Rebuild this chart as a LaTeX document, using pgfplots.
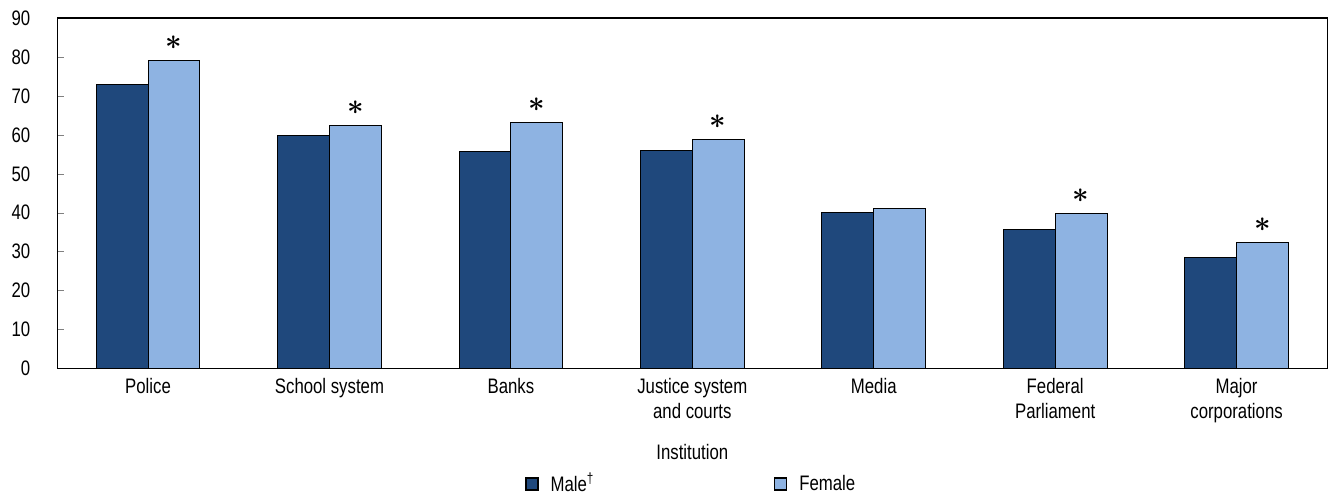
\documentclass[border=0pt]{standalone}
\usepackage{pgfplots}
\pgfplotsset{compat=1.18}
\usepackage{amsmath}
\usepackage{fontspec}
\setmainfont{Liberation Sans}[FakeStretch=0.8]
\definecolor{maleblue}{RGB}{31,72,124}
\definecolor{femaleblue}{RGB}{142,179,226}
\begin{document}
\begin{tikzpicture}
\begin{axis}[
  width=636pt, height=175.5pt, scale only axis,
  xmin=-0.5, xmax=6.5, ymin=0, ymax=90,
  ybar=0pt, bar width=0.286,
  ytick={0,10,...,90},
  xtick={0,...,6},
  xticklabels={Police, School system, Banks, {Justice system\\and courts}, Media, {Federal\\Parliament}, {Major\\corporations}},
  xticklabel style={align=center, font=\fontsize{10.5}{12.5}\selectfont, yshift=2pt},
  yticklabel style={font=\fontsize{10.5}{12}\selectfont, xshift=-10pt},
  /pgf/number format/assume math mode=true,
  ytick pos=left, ytick align=inside, major tick length=3.5pt,
  xtick style={draw=none},
  axis line style={line width=0.7pt},
  xlabel={Institution},
  xlabel style={font=\fontsize{10.5}{12}\selectfont, yshift=-4pt},
  legend style={at={(0.5,-0.275)}, anchor=north, draw=none, legend columns=2,
    font=\fontsize{10.5}{12}\selectfont, /tikz/every even column/.append style={column sep=88pt}},
  legend image code/.code={\draw[#1, draw=black, line width=0.6pt] (0pt,-3pt) rectangle (6pt,3pt);},
  nodes near coords style={font=\Large, anchor=south, yshift=2pt},
]
\addplot[fill=maleblue, draw=black, line width=0.5pt] coordinates {(0,73) (1,59.8) (2,55.8) (3,56.0) (4,40.0) (5,35.6) (6,28.4)};
\addlegendentry{\hspace{4pt}Male\textsuperscript{†}}
\addplot[fill=femaleblue, draw=black, line width=0.5pt,
  nodes near coords={\pgfplotspointmeta}, point meta=explicit symbolic]
  coordinates {(0,79.0) [$\boldsymbol{\ast}$] (1,62.4) [$\boldsymbol{\ast}$] (2,63.2) [$\boldsymbol{\ast}$] (3,58.8) [$\boldsymbol{\ast}$] (4,41.1) [{}] (5,39.7) [$\boldsymbol{\ast}$] (6,32.3) [$\boldsymbol{\ast}$]};
\addlegendentry{\hspace{4pt}Female}
\end{axis}
\path (current bounding box.east) ++(2pt,0) coordinate (r);
\path (current bounding box.west) ++(-2.5pt,0) coordinate (l);
\path (current bounding box.north) ++(0,2pt) coordinate (t);
\path[use as bounding box] (current bounding box.south west -| l) rectangle (r |- t);
\end{tikzpicture}
\end{document}
